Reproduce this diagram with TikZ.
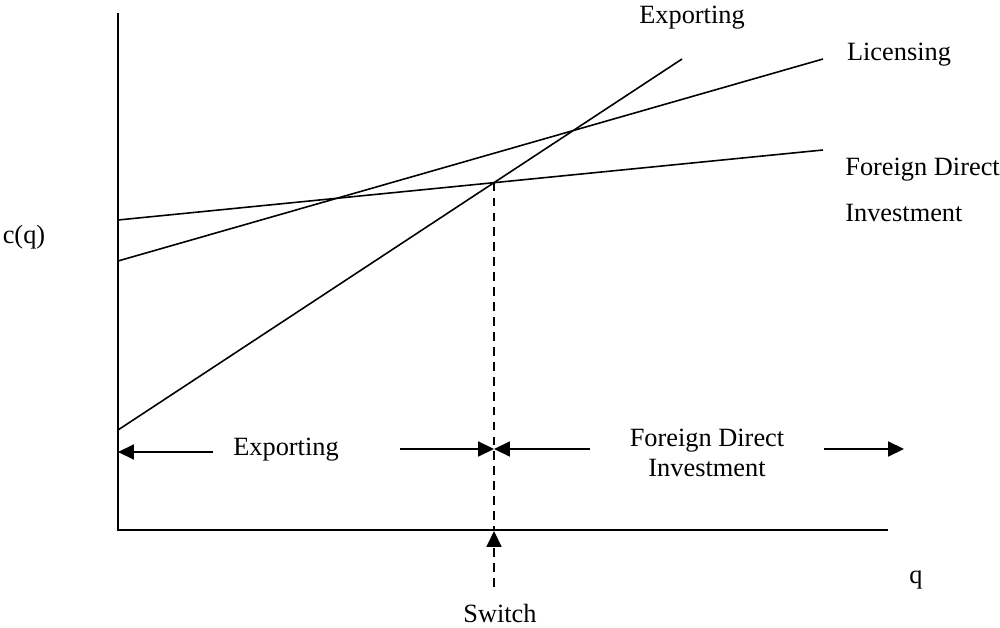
\documentclass[tikz,border=0pt]{standalone}
\usepackage{fontspec}
\setmainfont{Liberation Serif}
\usetikzlibrary{arrows.meta}
\begin{document}
\begin{tikzpicture}[x=0.02cm,y=-0.02cm,
        lbl/.style={font=\fontsize{15}{18}\selectfont,inner sep=0pt},
        cost/.style={line width=0.9pt},
        tip/.style={-{Triangle[length=9pt,width=8.5pt]}},
        cut/.style={dash pattern=on 5pt off 3.5pt}]
        \useasboundingbox(0,0)rectangle(1000,628);
        % axes
        \coordinate(o)at(118,530);
        \coordinate(ytop)at(118,13);
        \coordinate(xend)at(888,530);
        \draw[line width=1.1pt](ytop)--(o)--(xend);
        % cost lines
        \coordinate(e0)at(118,430);\coordinate(e1)at(682,59);
        \coordinate(l0)at(118,261);\coordinate(l1)at(823,59);
        \coordinate(f0)at(118,220);\coordinate(f1)at(823,150);
        \draw[cost](e0)--(e1);
        \draw[cost](l0)--(l1);
        \draw[cost](f0)--(f1);
        \coordinate(cross)at(intersection of e0--e1 and f0--f1);
        \draw[cost,cut](cross)--(cross|-o);
        \coordinate(sb)at(0,587);\coordinate(st)at(0,531);
        \draw[cost,cut,tip](cross|-sb)--(cross|-st);
        % labels
        \node[lbl,anchor=base](expT)at(692,24){Exporting};
        \node[lbl,anchor=base](lic)at(899,61){Licensing};
        \node[lbl,anchor=base west](fdiA)at(845,175){Foreign Direct};
        \node[lbl,anchor=base west](fdiB)at(845,221){Investment};
        \node[lbl,anchor=base](cq)at(24,243){c(q)};
        \node[lbl,anchor=base](q)at(916,583){q};
        \node[lbl,anchor=base](switch)at(500,622){Switch};
        \node[lbl,anchor=base](expB)at(286,455){Exporting};
        \node[lbl,anchor=base](fdiC)at(707,446){Foreign Direct};
        \node[lbl,anchor=base](fdiD)at(707,476){Investment};
        % ranges
        \coordinate(h1)at(0,452);\coordinate(h2)at(0,449);
        \coordinate(a1)at(213,452);\coordinate(a2)at(400,449);
        \coordinate(a3)at(590,449);\coordinate(a4)at(824,449);
        \coordinate(a5)at(904,449);
        \draw[cost,tip](a1)--(o|-h1);
        \draw[cost,tip](a2)--(cross|-h2);
        \draw[cost,tip](a3)--(cross|-h2);
        \draw[cost,tip](a4)--(a5);
    \end{tikzpicture}
\end{document}
